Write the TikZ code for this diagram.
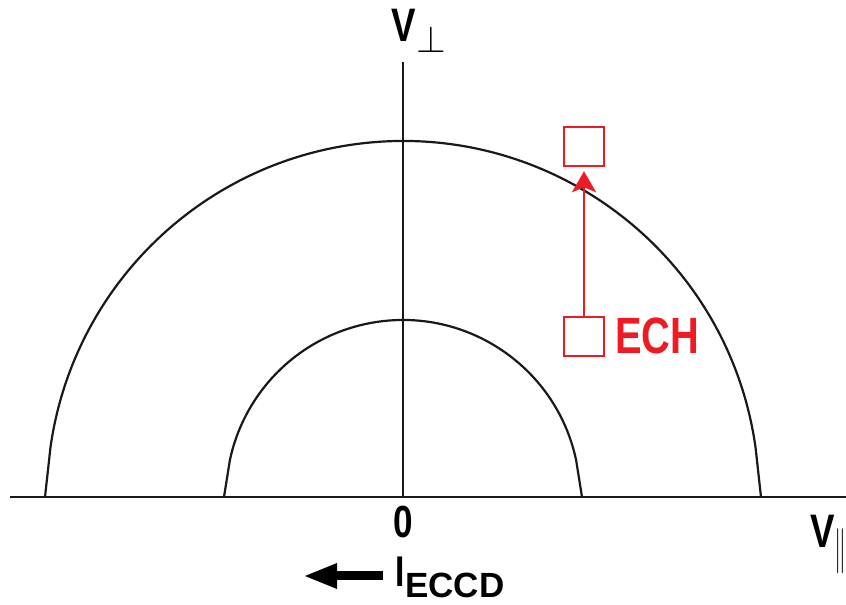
\documentclass[tikz,border=0pt]{standalone}
\usepackage{fontspec}
\setmainfont{Liberation Sans}
\newfontfamily\condfont[FakeStretch=0.78]{Liberation Sans}
\usetikzlibrary{arrows.meta,calc}
\definecolor{echred}{HTML}{ED1C24}
\begin{document}
\begin{tikzpicture}[x=1pt,y=1pt,
  axisline/.style={line width=2.2pt,black!90},
  shell/.style={line width=2.2pt,black!90},
  lbl/.style={inner sep=0pt,font=\condfont\bfseries},
  redbox/.style={draw=echred,line width=2.5pt,minimum width=40pt,minimum height=39pt,inner sep=0pt},
  redarrow/.style={draw=echred,line width=2.5pt,-{Stealth[length=21pt,width=24pt,inset=5pt]}}]
\useasboundingbox (0,0) rectangle (846,605);
\fill[white] (0,0) rectangle (846,605);
\coordinate (O) at (403,108);
\coordinate (xl) at (10,108);
\coordinate (xr) at (846,108);
\coordinate (yt) at (403,543);
% axes
\draw[axisline] (xl) -- (xr);
\draw[axisline] (O) -- (yt);
% outer shell
\draw[shell] (761,108) -- ($(O)+(8:356)$) arc[start angle=8,end angle=172,radius=356] -- (45,108);
% inner shell
\draw[shell] (582,108) -- ($(O)+(12:177)$) arc[start angle=12,end angle=168,radius=177] -- (224,108);
% labels
\node[lbl,font=\condfont\bfseries\fontsize{47}{47}\selectfont] (vperp) at (404,580) {V};
\node[inner sep=0pt] (perp) at (431,566) {\scalebox{3.8}{$\perp$}};
\node[lbl,font=\condfont\bfseries\fontsize{47}{47}\selectfont,anchor=base west] (vpar) at (810,57)
  {V\raisebox{-14.25pt}{\scalebox{2.4}[4.5]{\fontsize{10}{12}\selectfont$\|$}}};
\node[lbl,font=\condfont\bfseries\fontsize{45}{45}\selectfont] (zero) at (403,83) {0};
\node[lbl,font=\condfont\bfseries\fontsize{43}{43}\selectfont] (ii) at (400,33) {I};
\node[inner sep=0pt,font=\bfseries\fontsize{35}{35}\selectfont,anchor=west] (eccd) at (405,20) {ECCD};
% current arrow
\coordinate (cS) at (383,29);
\coordinate (cE) at (303,29);
\draw[line width=9pt,-{Triangle[length=34pt,width=23pt]}] (cS) -- (cE);
% ECH boxes
\node[redbox] (top) at (584,458.5) {};
\node[redbox] (bot) at (584,268.5) {};
\draw[redarrow] (bot.north) -- ([yshift=-4pt]top.south);
\node[lbl,text=echred,font=\condfont\bfseries\fontsize{51}{51}\selectfont,anchor=west] (ech) at (615,269) {ECH};
\end{tikzpicture}
\end{document}
